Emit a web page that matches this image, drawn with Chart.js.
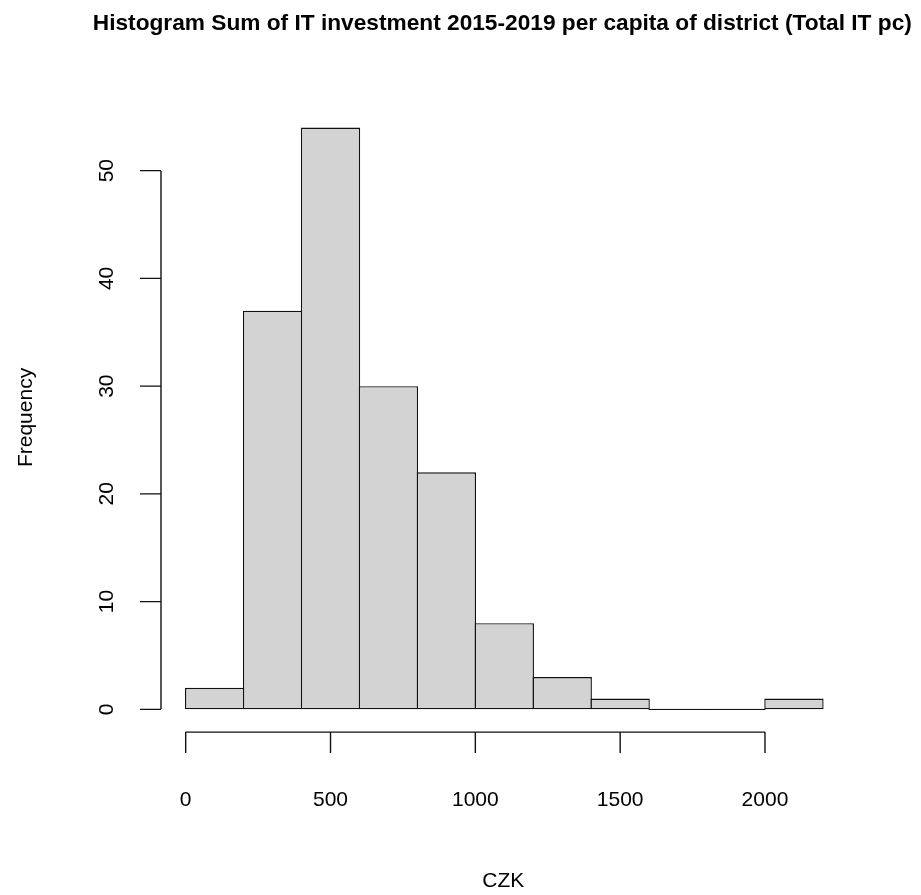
<!DOCTYPE html>
<html>
<head>
<meta charset="utf-8">
<script src="https://cdn.jsdelivr.net/npm/chart.js@4"></script>
<style>
  html, body { margin: 0; padding: 0; background: #fff; }
  #wrap { width: 921px; height: 895px; }
</style>
</head>
<body>
<div id="wrap"><canvas id="grafico"></canvas></div>
<script>
// histogram breaks and counts
const breaks = [0, 200, 400, 600, 800, 1000, 1200, 1400, 1600, 1800, 2000, 2200];
const counts = [2, 37, 54, 30, 22, 8, 3, 1, 0, 0, 1];
const xTicks = [0, 500, 1000, 1500, 2000];
const yTicks = [0, 10, 20, 30, 40, 50];

const titleText = 'Histogram Sum of IT investment 2015-2019 per capita of district (Total IT pc)';
const xTitle = 'CZK';
const yTitle = 'Frequency';

const FONT = "'Liberation Sans', Arial, sans-serif";
const LW = 1.4;

// R pads the axis range by 4%
const xRange = breaks[breaks.length - 1] - breaks[0];
const yMaxCount = Math.max(...counts);

const mids = counts.map((c, i) => (breaks[i] + breaks[i + 1]) / 2);

const rAxes = {
    id: 'rAxes',
    afterDraw(chart) {
        const ctx = chart.ctx;
        const xs = chart.scales.x;
        const ys = chart.scales.y;
        const area = chart.chartArea;
        ctx.save();
        ctx.strokeStyle = '#111';
        ctx.fillStyle = '#000';
        ctx.lineWidth = LW;

        // x axis
        const ax = area.bottom - 0.5;
        ctx.beginPath();
        ctx.moveTo(xs.getPixelForValue(xTicks[0]), ax);
        ctx.lineTo(xs.getPixelForValue(xTicks[xTicks.length - 1]), ax);
        xTicks.forEach(t => {
            const px = xs.getPixelForValue(t);
            ctx.moveTo(px, ax);
            ctx.lineTo(px, ax + 21);
        });
        ctx.stroke();
        ctx.font = '21px ' + FONT;
        ctx.textAlign = 'center';
        ctx.textBaseline = 'alphabetic';
        xTicks.forEach(t => {
            ctx.fillText(String(t), xs.getPixelForValue(t), 806);
        });

        // y axis
        const ay = area.left + 0.8;
        ctx.beginPath();
        ctx.moveTo(ay, ys.getPixelForValue(yTicks[0]));
        ctx.lineTo(ay, ys.getPixelForValue(yTicks[yTicks.length - 1]));
        yTicks.forEach(t => {
            const py = ys.getPixelForValue(t);
            ctx.moveTo(ay, py);
            ctx.lineTo(ay - 21, py);
        });
        ctx.stroke();
        yTicks.forEach(t => {
            ctx.save();
            ctx.translate(112.5, ys.getPixelForValue(t));
            ctx.rotate(-Math.PI / 2);
            ctx.fillText(String(t), 0, 0);
            ctx.restore();
        });

        // axis titles
        const cx = (area.left + area.right) / 2;
        const cy = (area.top + area.bottom) / 2;
        ctx.fillText(xTitle, cx - 1, 887);
        ctx.save();
        ctx.translate(31.5, cy - 1);
        ctx.rotate(-Math.PI / 2);
        ctx.fillText(yTitle, 0, 0);
        ctx.restore();

        // main title
        ctx.font = 'bold 22.7px ' + FONT;
        ctx.fillText(titleText, cx - 2, 30);
        ctx.restore();
    }
};

const grafico = document.getElementById('grafico');
new Chart(grafico, {
    type: 'bar',
    data: {
        datasets: [{
            label: 'Frequency',
            data: mids.map((m, i) => ({ x: m, y: counts[i] })),
            backgroundColor: '#D3D3D3',
            borderColor: '#111',
            borderWidth: LW,
            borderSkipped: false,
            inflateAmount: 0,
            minBarLength: LW,
            barPercentage: 1 + LW / 57.93,
            categoryPercentage: 1
        }]
    },
    options: {
        responsive: true,
        maintainAspectRatio: false,
        animation: false,
        events: [],
        layout: {
            padding: { left: 160.2, right: 72.6, top: 104.3, bottom: 162.4 }
        },
        plugins: {
            legend: { display: false },
            tooltip: { enabled: false },
            title: { display: false }
        },
        scales: {
            x: {
                type: 'linear',
                display: false,
                offset: false,
                min: breaks[0] - 0.04 * xRange,
                max: breaks[breaks.length - 1] + 0.04 * xRange
            },
            y: {
                display: false,
                min: -0.04 * yMaxCount,
                max: yMaxCount * 1.04
            }
        }
    },
    plugins: [rAxes]
});
</script>
</body>
</html>
